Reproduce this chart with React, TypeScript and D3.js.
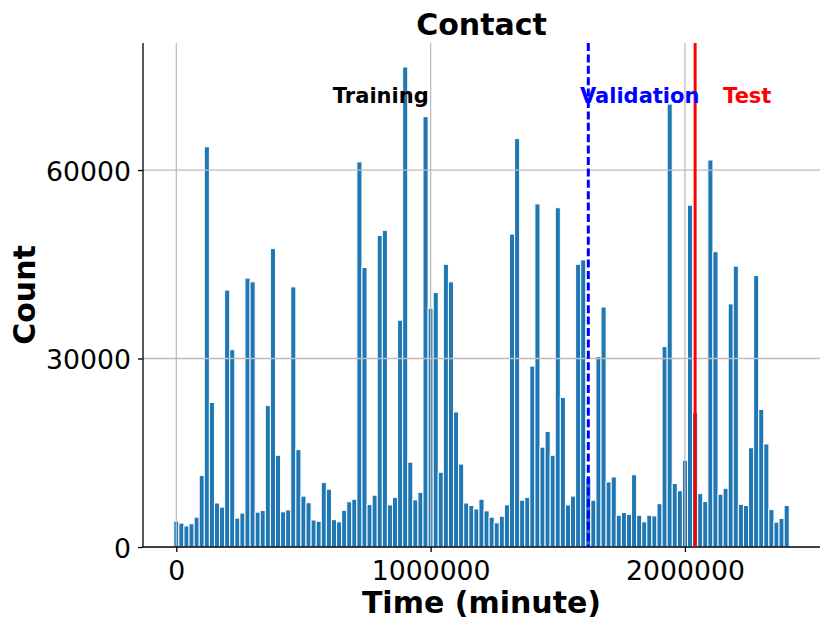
import { useEffect, useRef } from 'react'
import * as d3 from 'd3'

// --- DATA ---
const binWidth = 20000
const counts = [
  4100, 3800, 3350, 3700, 4750, 11400, 63700, 23000, 7000, 6350,
  40900, 31400, 4600, 5400, 42800, 42200, 5550, 5800, 22500, 47500,
  14600, 5600, 5900, 41400, 15500, 8100, 7050, 4300, 4100, 10250,
  9200, 4350, 4000, 5850, 7200, 7600, 61300, 44500, 6750, 8250,
  49600, 50400, 6700, 7900, 36100, 76400, 13500, 7500, 8700, 68500,
  38000, 40500, 11900, 45000, 42200, 21500, 13200, 7000, 6600, 6050,
  7600, 5750, 4750, 3850, 4900, 6700, 49800, 65000, 7450, 7900,
  28800, 54600, 15900, 18400, 14600, 54000, 23800, 6700, 8100, 45000,
  45700, 11000, 7450, 30300, 38200, 10350, 11150, 5050, 5500, 5200,
  11500, 5050, 4000, 5050, 4950, 6900, 31900, 70500, 10100, 8950,
  13800, 54400, 21400, 8500, 7250, 61600, 47000, 8400, 9350, 38700,
  44700, 6800, 6600, 15800, 43200, 21900, 16400, 5950, 3950, 4550,
  6600,
]
const xTicks = [0, 1000000, 2000000]
const yTicks = [0, 30000, 60000]
const splitNames = ['Training', 'Validation', 'Test']
const splitLabelX = [804000, 1822000, 2245000]
const splitLabelY = 70700
const splitColors = ['#000000', '#0000ff', '#ff0000']
const validationStart = 1620000
const testStart = 2040000

const FONT = '"DejaVu Sans", sans-serif'

export default function App() {
  const svgRef = useRef<SVGSVGElement | null>(null)

  useEffect(() => {
    if (!svgRef.current) return
    const width = 831
    const height = 631
    const margin = { left: 143, right: 11, top: 43, bottom: 84 }

    const svg = d3.select<SVGSVGElement, unknown>(svgRef.current)
    svg.selectAll('*').remove()
    svg.attr('width', width).attr('height', height)

    const centers = counts.map((_, i) => i * binWidth)
    const lo = -binWidth / 2
    const hi = centers[centers.length - 1] + binWidth / 2
    const pad = (hi - lo) * 0.05
    const yMax = (d3.max(counts) ?? 0) * 1.05

    // --- SCALES ---
    const x = d3
      .scaleLinear()
      .domain([lo - pad, hi + pad])
      .range([margin.left, width - margin.right])
    const y = d3
      .scaleLinear()
      .domain([0, yMax])
      .range([height - margin.bottom, margin.top])

    // --- BARS ---
    svg
      .append('g')
      .selectAll('rect')
      .data(counts)
      .enter()
      .append('rect')
      .attr('x', (_, i) => x(centers[i] - binWidth / 2))
      .attr('width', (_, i) => x(centers[i] + binWidth / 2) - x(centers[i] - binWidth / 2))
      .attr('y', (d) => y(d))
      .attr('height', (d) => y(0) - y(d))
      .attr('fill', '#1f77b4')
      .attr('stroke', '#ffffff')
      .attr('stroke-width', 1)

    // --- GRID (drawn over the bars, like matplotlib) ---
    const grid = svg.append('g').attr('stroke', '#bdbdbd').attr('stroke-width', 1.3)
    xTicks.forEach((t) => {
      grid
        .append('line')
        .attr('x1', x(t))
        .attr('x2', x(t))
        .attr('y1', margin.top)
        .attr('y2', y(0))
    })
    yTicks.slice(1).forEach((t) => {
      grid
        .append('line')
        .attr('x1', margin.left)
        .attr('x2', width - margin.right)
        .attr('y1', y(t))
        .attr('y2', y(t))
    })

    // --- AXES ---
    const xAxis = d3
      .axisBottom(x)
      .tickValues(xTicks)
      .tickSize(5)
      .tickPadding(6)
      .tickFormat((d) => String(d))
    const yAxis = d3
      .axisLeft(y)
      .tickValues(yTicks)
      .tickSize(5)
      .tickPadding(7)
      .tickFormat((d) => String(d))

    const gx = svg
      .append('g')
      .attr('transform', `translate(0, ${y(0)})`)
      .call(xAxis)
    const gy = svg
      .append('g')
      .attr('transform', `translate(${margin.left}, 0)`)
      .call(yAxis)

    ;[gx, gy].forEach((g) => {
      g.select('.domain').attr('stroke', '#000').attr('stroke-width', 1.3)
      g.selectAll('.tick line').attr('stroke', '#000').attr('stroke-width', 1.3)
      g.selectAll('.tick text')
        .attr('fill', '#000')
        .style('font-family', FONT)
        .style('font-size', '26.7px')
    })
    gx.select('.domain').attr('d', `M${margin.left},0H${width - margin.right}`)
    gy.select('.domain').attr('d', `M0,${y(0)}V${margin.top}`)
    gx.selectAll('.tick text').attr('dy', '0').attr('y', 32.5)
    gy.selectAll('.tick text').attr('dy', '0').attr('y', 10)

    // --- SPLIT LINES ---
    svg
      .append('line')
      .attr('x1', x(validationStart))
      .attr('x2', x(validationStart))
      .attr('y1', margin.top)
      .attr('y2', y(0))
      .attr('stroke', '#0000ff')
      .attr('stroke-width', 3)
      .attr('stroke-dasharray', '8,3.4')
    svg
      .append('line')
      .attr('x1', x(testStart))
      .attr('x2', x(testStart))
      .attr('y1', margin.top)
      .attr('y2', y(0))
      .attr('stroke', '#ff0000')
      .attr('stroke-width', 3)

    // --- SPLIT LABELS ---
    splitNames.forEach((name, i) => {
      svg
        .append('text')
        .attr('x', x(splitLabelX[i]))
        .attr('y', y(splitLabelY))
        .attr('text-anchor', 'middle')
        .attr('fill', splitColors[i])
        .style('font-family', FONT)
        .style('font-weight', 'bold')
        .style('font-size', '21px')
        .text(name)
    })

    // --- TITLES ---
    const cx = (margin.left + width - margin.right) / 2
    svg
      .append('text')
      .attr('x', cx)
      .attr('y', 35)
      .attr('text-anchor', 'middle')
      .style('font-family', FONT)
      .style('font-weight', 'bold')
      .style('font-size', '30px')
      .text('Contact')
    svg
      .append('text')
      .attr('x', cx)
      .attr('y', 613)
      .attr('text-anchor', 'middle')
      .style('font-family', FONT)
      .style('font-weight', 'bold')
      .style('font-size', '30px')
      .text('Time (minute)')
    svg
      .append('text')
      .attr('transform', `translate(35, ${(margin.top + y(0)) / 2}) rotate(-90)`)
      .attr('text-anchor', 'middle')
      .style('font-family', FONT)
      .style('font-weight', 'bold')
      .style('font-size', '30px')
      .text('Count')
  }, [])

  return (
    <div style={{ position: 'absolute', left: 0, top: 0, width: 831, height: 631, background: '#fff' }}>
      <svg ref={svgRef} />
    </div>
  )
}
